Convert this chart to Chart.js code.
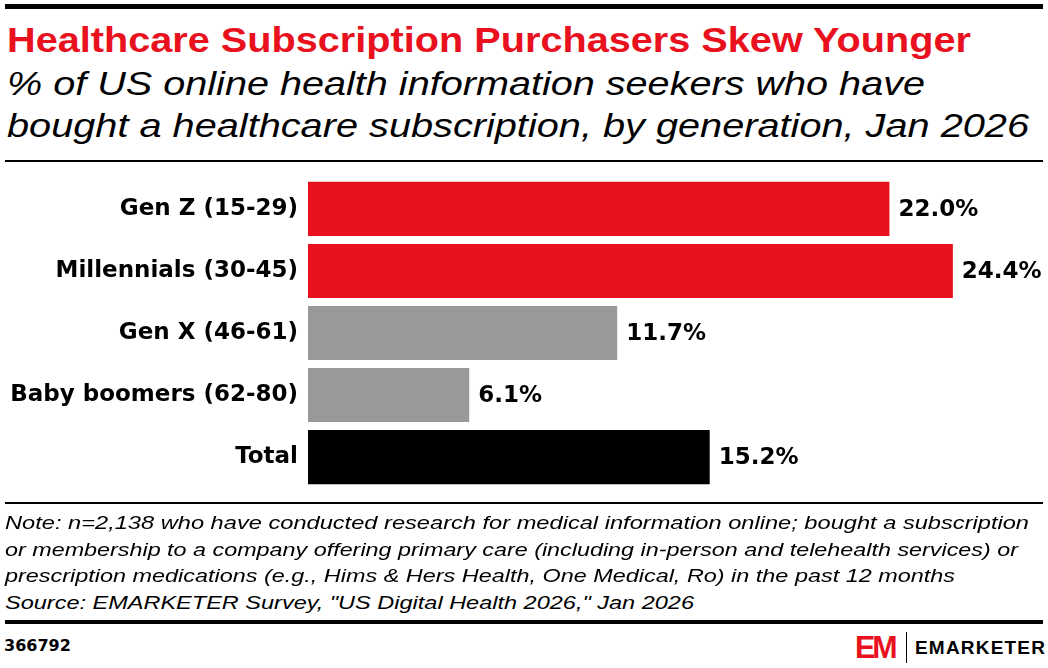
<!DOCTYPE html>
<html>
<head>
<meta charset="utf-8">
<script src="https://cdn.jsdelivr.net/npm/chart.js@4.4.0/dist/chart.umd.min.js"></script>
<style>
  html, body { margin: 0; padding: 0; background: #fff; }
  body { width: 1048px; height: 668px; position: relative; overflow: hidden; font-family: "Liberation Sans", Arial, sans-serif; }
  .rule { position: absolute; left: 5px; width: 1038px; background: #000; }
  .line { position: absolute; left: 7px; white-space: nowrap; display: inline-block; transform-origin: 0 0; }
  .title { font-size: 35px; font-weight: bold; color: #e8111d; line-height: 40px; }
  .sub { font-size: 33px; font-style: italic; line-height: 40px; color: #000; }
  .note { font-size: 19px; font-style: italic; line-height: 24px; color: #000; left: 5px; }
  #chartBox { position: absolute; left: 0; top: 162px; width: 1048px; height: 342px; }
  #chartId { position: absolute; left: 4px; top: 636px; font-family: "DejaVu Sans", sans-serif; font-size: 16px; font-weight: bold; }
  #logo { position: absolute; left: 855px; top: 632px; height: 31px; display: flex; align-items: center; }
  #logo .em { color: #e8111d; font-weight: bold; font-size: 31px; letter-spacing: -3px; display: inline-block; transform: scaleX(0.98); transform-origin: 0 50%; width: 45px; }
  #logo .sep { width: 1px; height: 31px; background: #000; margin: 0 8px 0 6px; }
  #logo .name { font-weight: bold; font-size: 19px; letter-spacing: 1.2px; }
</style>
</head>
<body>
<div class="rule" style="top:4px;height:5px"></div>
<span class="line title" style="top:20px" data-w="964">Healthcare Subscription Purchasers Skew Younger</span>
<span class="line sub" style="top:64px" data-w="918">% of US online health information seekers who have</span>
<span class="line sub" style="top:106px" data-w="1022">bought a healthcare subscription, by generation, Jan 2026</span>
<div class="rule" style="top:160px;height:2px"></div>
<div id="chartBox"><canvas id="myChart"></canvas></div>
<div class="rule" style="top:502px;height:2px"></div>
<span class="line note" style="top:511px" data-w="1024">Note: n=2,138 who have conducted research for medical information online; bought a subscription</span>
<span class="line note" style="top:538px" data-w="1013">or membership to a company offering primary care (including in-person and telehealth services) or</span>
<span class="line note" style="top:564px" data-w="950">prescription medications (e.g., Hims &amp; Hers Health, One Medical, Ro) in the past 12 months</span>
<span class="line note" style="top:591px" data-w="689">Source: EMARKETER Survey, "US Digital Health 2026," Jan 2026</span>
<div class="rule" style="top:620px;height:4px"></div>
<div id="chartId">366792</div>
<div id="logo"><span class="em">EM</span><span class="sep"></span><span class="name">EMARKETER</span></div>

<script>
const categories = ["Gen Z (15-29)", "Millennials (30-45)", "Gen X (46-61)", "Baby boomers (62-80)", "Total"];
const values = [22.0, 24.4, 11.7, 6.1, 15.2];
const barColors = ["#e8111d", "#e8111d", "#999999", "#999999", "#000000"];

// stretch text lines to the widths seen in the original
document.querySelectorAll(".line").forEach((el) => {
  const w = el.getBoundingClientRect().width;
  el.style.transform = "scaleX(" + (Number(el.dataset.w) / w) + ")";
});

const valueLabels = {
  id: "valueLabels",
  afterDatasetsDraw(chart) {
    const ctx = chart.ctx;
    const meta = chart.getDatasetMeta(0);
    ctx.save();
    ctx.font = "bold 23px 'DejaVu Sans', sans-serif";
    ctx.fillStyle = "#000";
    ctx.textBaseline = "middle";
    ctx.textAlign = "left";
    meta.data.forEach((bar, i) => {
      ctx.fillText(values[i].toFixed(1) + "%", bar.x + 9, bar.y + 1);
    });
    ctx.restore();
  }
};

const ctx = document.getElementById("myChart").getContext("2d");
const myChart = new Chart(ctx, {
  type: "bar",
  data: {
    labels: categories,
    datasets: [
      {
        data: values,
        backgroundColor: barColors,
        borderWidth: 0,
        barPercentage: 0.871,
        categoryPercentage: 1.0,
      },
    ],
  },
  options: {
    indexAxis: "y",
    responsive: true,
    maintainAspectRatio: false,
    animation: false,
    layout: { padding: 0 },
    scales: {
      x: { display: false, min: 0, max: 28 },
      y: {
        afterFit(scale) { scale.width = 308; },
        grid: { display: false },
        border: { display: false },
        ticks: {
          padding: 2,
          color: "#000",
          font: { family: "'DejaVu Sans', sans-serif", size: 23, weight: "bold" },
        },
      },
    },
    plugins: {
      legend: { display: false },
      tooltip: { enabled: false },
    },
  },
  plugins: [valueLabels],
});
</script>
</body>
</html>
